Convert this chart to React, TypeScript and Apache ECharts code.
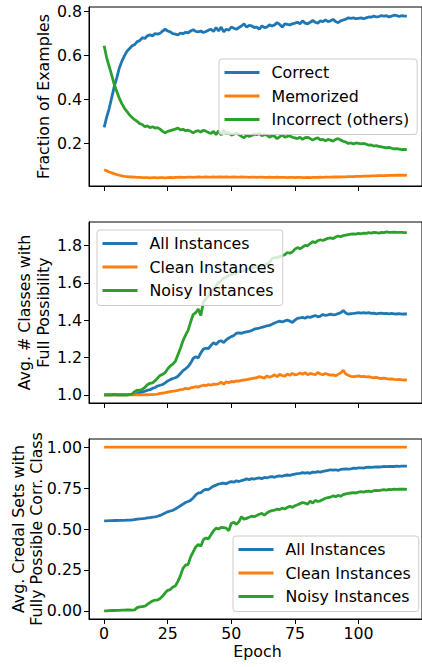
import React, { useEffect, useRef } from "react";
import * as echarts from "echarts";

const epochs = [
  0, 1, 2, 3, 4, 5, 6, 7, 8, 9, 10, 11, 12, 13, 14, 15, 16, 17, 18, 19,
  20, 21, 22, 23, 24, 25, 26, 27, 28, 29, 30, 31, 32, 33, 34, 35, 36, 37, 38, 39,
  40, 41, 42, 43, 44, 45, 46, 47, 48, 49, 50, 51, 52, 53, 54, 55, 56, 57, 58, 59,
  60, 61, 62, 63, 64, 65, 66, 67, 68, 69, 70, 71, 72, 73, 74, 75, 76, 77, 78, 79,
  80, 81, 82, 83, 84, 85, 86, 87, 88, 89, 90, 91, 92, 93, 94, 95, 96, 97, 98, 99,
  100, 101, 102, 103, 104, 105, 106, 107, 108, 109, 110, 111, 112, 113, 114, 115, 116, 117, 118, 119,
];

// Panel 1: Fraction of Examples
const p1Correct = [
  0.273, 0.32, 0.36, 0.41, 0.46, 0.5, 0.545, 0.575, 0.6, 0.62,
  0.632, 0.645, 0.65, 0.664, 0.668, 0.682, 0.678, 0.69, 0.695, 0.69,
  0.7, 0.698, 0.702, 0.712, 0.72, 0.712, 0.708, 0.7, 0.698, 0.694,
  0.702, 0.7, 0.706, 0.704, 0.712, 0.718, 0.71, 0.708, 0.712, 0.705,
  0.71, 0.716, 0.72, 0.71, 0.728, 0.712, 0.73, 0.708, 0.72, 0.716,
  0.73, 0.725, 0.72, 0.728, 0.735, 0.745, 0.73, 0.738, 0.735, 0.728,
  0.73, 0.72, 0.735, 0.728, 0.73, 0.74, 0.735, 0.74, 0.75, 0.742,
  0.73, 0.745, 0.742, 0.74, 0.745, 0.748, 0.752, 0.745, 0.758, 0.748,
  0.745, 0.752, 0.76, 0.752, 0.748, 0.758, 0.755, 0.762, 0.755, 0.758,
  0.765, 0.755, 0.75, 0.758, 0.762, 0.766, 0.772, 0.77, 0.772, 0.768,
  0.77, 0.772, 0.768, 0.772, 0.776, 0.775, 0.78, 0.776, 0.778, 0.782,
  0.78, 0.782, 0.776, 0.78, 0.784, 0.782, 0.778, 0.782, 0.78, 0.78,
];
const p1Memorized = [
  0.08, 0.075, 0.07, 0.066, 0.062, 0.058, 0.055, 0.052, 0.05, 0.049,
  0.048, 0.047, 0.046, 0.045, 0.045, 0.044, 0.044, 0.044, 0.043, 0.044,
  0.044, 0.043, 0.044, 0.044, 0.043, 0.044, 0.045, 0.044, 0.045, 0.045,
  0.046, 0.045, 0.045, 0.046, 0.046, 0.045, 0.046, 0.047, 0.046, 0.046,
  0.047, 0.046, 0.046, 0.047, 0.046, 0.047, 0.047, 0.046, 0.047, 0.046,
  0.046, 0.047, 0.046, 0.046, 0.047, 0.046, 0.046, 0.045, 0.046, 0.046,
  0.045, 0.046, 0.046, 0.045, 0.045, 0.046, 0.045, 0.045, 0.046, 0.045,
  0.045, 0.045, 0.044, 0.045, 0.045, 0.044, 0.045, 0.045, 0.044, 0.044,
  0.045, 0.044, 0.045, 0.045, 0.045, 0.046, 0.045, 0.046, 0.046, 0.046,
  0.047, 0.047, 0.047, 0.048, 0.048, 0.048, 0.049, 0.049, 0.049, 0.05,
  0.05, 0.05, 0.051, 0.051, 0.051, 0.052, 0.052, 0.052, 0.053, 0.053,
  0.053, 0.053, 0.054, 0.054, 0.054, 0.055, 0.055, 0.055, 0.055, 0.056,
];
const p1Incorrect = [
  0.645, 0.59, 0.55, 0.51, 0.468, 0.435, 0.405, 0.38, 0.36, 0.345,
  0.33, 0.318, 0.308, 0.3, 0.29, 0.286, 0.276, 0.28, 0.272, 0.276,
  0.27, 0.272, 0.265, 0.255, 0.248, 0.255, 0.258, 0.262, 0.265, 0.27,
  0.262, 0.264, 0.258, 0.26, 0.255, 0.248, 0.255, 0.258, 0.252, 0.26,
  0.256, 0.25, 0.245, 0.255, 0.24, 0.258, 0.238, 0.26, 0.245, 0.25,
  0.238, 0.242, 0.248, 0.24, 0.232, 0.225, 0.238, 0.232, 0.236, 0.242,
  0.24, 0.245, 0.235, 0.24, 0.238, 0.228, 0.235, 0.232, 0.222, 0.23,
  0.24, 0.228, 0.232, 0.234, 0.228, 0.225, 0.222, 0.228, 0.218, 0.226,
  0.228, 0.222, 0.215, 0.222, 0.225, 0.216, 0.218, 0.212, 0.218, 0.215,
  0.21, 0.218, 0.222, 0.215, 0.21, 0.206, 0.2, 0.202, 0.198, 0.202,
  0.2, 0.198, 0.2, 0.196, 0.192, 0.193, 0.188, 0.19, 0.186, 0.184,
  0.182, 0.18, 0.182, 0.178, 0.175, 0.176, 0.174, 0.172, 0.173, 0.172,
];

// Panel 2: Avg. # Classes with Full Possibility
const p2All = [
  1.0, 1.0, 1.001, 1.0, 1.0, 1.002, 1.0, 1.001, 1.0, 1.0,
  1.002, 1.003, 1.005, 1.008, 1.012, 1.015, 1.02, 1.025, 1.028, 1.035,
  1.04, 1.048, 1.052, 1.056, 1.065, 1.075, 1.082, 1.088, 1.092, 1.1,
  1.115, 1.13, 1.14, 1.152, 1.17, 1.195, 1.205, 1.198, 1.225, 1.245,
  1.25, 1.248, 1.265, 1.28, 1.27, 1.285, 1.29, 1.28, 1.295, 1.305,
  1.312, 1.318, 1.33, 1.332, 1.33, 1.335, 1.338, 1.34, 1.345, 1.352,
  1.355, 1.358, 1.362, 1.365, 1.37, 1.372, 1.378, 1.385, 1.39, 1.395,
  1.39, 1.396, 1.4, 1.395, 1.388, 1.4, 1.41, 1.412, 1.415, 1.41,
  1.418, 1.415, 1.42, 1.425, 1.418, 1.422, 1.43, 1.425, 1.428, 1.432,
  1.428, 1.43, 1.435, 1.44, 1.452, 1.438, 1.432, 1.435, 1.436, 1.438,
  1.44, 1.438, 1.44, 1.438, 1.44, 1.436, 1.438, 1.434, 1.436, 1.438,
  1.435, 1.436, 1.434, 1.436, 1.434, 1.433, 1.435, 1.432, 1.434, 1.433,
];
const p2Clean = [
  1.0, 1.0, 1.0, 1.0, 1.0, 1.0, 1.0, 1.0, 1.0, 1.0,
  1.0, 1.0, 1.0, 1.0, 1.0, 1.0, 1.001, 1.001, 1.002, 1.002,
  1.003, 1.005, 1.008, 1.01, 1.012, 1.015, 1.018, 1.02, 1.022, 1.025,
  1.028, 1.03, 1.035, 1.032, 1.038, 1.04, 1.045, 1.042, 1.048, 1.052,
  1.05, 1.055, 1.052, 1.058, 1.056, 1.06, 1.068, 1.058, 1.07, 1.066,
  1.072, 1.07, 1.075, 1.074, 1.078, 1.08, 1.082, 1.085, 1.088, 1.09,
  1.092, 1.098, 1.094, 1.09, 1.102, 1.095, 1.1, 1.108, 1.098, 1.11,
  1.104, 1.1, 1.112, 1.105, 1.115, 1.108, 1.11, 1.118, 1.11, 1.12,
  1.108, 1.115, 1.112, 1.108, 1.12, 1.112, 1.108, 1.115, 1.11, 1.106,
  1.108, 1.102, 1.11, 1.118, 1.132, 1.112, 1.105, 1.1, 1.098, 1.1,
  1.102, 1.098, 1.1, 1.097, 1.098, 1.094, 1.092, 1.094, 1.09, 1.088,
  1.09, 1.087, 1.085, 1.086, 1.083, 1.082, 1.083, 1.081, 1.08, 1.08,
];
const p2Noisy = [
  1.0, 1.0, 1.002, 1.0, 1.003, 1.001, 1.0, 1.002, 1.0, 1.001,
  1.003, 1.005, 1.018, 1.026, 1.025, 1.03, 1.04, 1.055, 1.062, 1.065,
  1.075, 1.09, 1.105, 1.11, 1.12, 1.14, 1.155, 1.165, 1.18, 1.215,
  1.25, 1.29, 1.32, 1.345, 1.39, 1.43, 1.44, 1.46, 1.425, 1.495,
  1.515, 1.53, 1.55, 1.565, 1.585, 1.6, 1.612, 1.625, 1.63, 1.64,
  1.645, 1.65, 1.652, 1.66, 1.662, 1.665, 1.672, 1.675, 1.678, 1.682,
  1.685, 1.69, 1.692, 1.695, 1.7, 1.71, 1.73, 1.735, 1.735, 1.74,
  1.745, 1.75, 1.762, 1.758, 1.765, 1.78, 1.788, 1.782, 1.79, 1.8,
  1.798, 1.81, 1.82, 1.815, 1.825, 1.83, 1.826, 1.832, 1.838, 1.84,
  1.836, 1.845, 1.85, 1.846, 1.852, 1.855, 1.858, 1.86, 1.862, 1.86,
  1.864, 1.862, 1.866, 1.864, 1.868, 1.866, 1.87, 1.868, 1.866, 1.87,
  1.868, 1.872, 1.87, 1.869, 1.871, 1.87, 1.869, 1.87, 1.868, 1.868,
];

// Panel 3: Avg. Credal Sets with Fully Possible Corr. Class
const p3All = [
  0.55, 0.55, 0.551, 0.551, 0.552, 0.552, 0.553, 0.553, 0.553, 0.554,
  0.554, 0.555, 0.558, 0.56, 0.562, 0.563, 0.565, 0.568, 0.57, 0.572,
  0.574, 0.578, 0.583, 0.59, 0.598, 0.605, 0.61, 0.614, 0.622, 0.632,
  0.642, 0.652, 0.662, 0.668, 0.675, 0.69, 0.708, 0.72, 0.722, 0.735,
  0.742, 0.74, 0.752, 0.762, 0.768, 0.775, 0.778, 0.78, 0.776, 0.785,
  0.79, 0.786, 0.795, 0.79, 0.796, 0.8, 0.806, 0.802, 0.808, 0.805,
  0.81, 0.812, 0.808, 0.815, 0.812, 0.818, 0.82, 0.816, 0.822, 0.825,
  0.822, 0.828, 0.83, 0.828, 0.832, 0.835, 0.838, 0.84, 0.845, 0.842,
  0.845, 0.84, 0.848, 0.846, 0.85, 0.848, 0.852, 0.855, 0.858, 0.862,
  0.86, 0.862, 0.858, 0.864, 0.866, 0.868, 0.866, 0.868, 0.872, 0.87,
  0.873, 0.874, 0.872, 0.876, 0.878, 0.876, 0.878, 0.88, 0.879, 0.88,
  0.882, 0.881, 0.882, 0.883, 0.882, 0.884, 0.883, 0.884, 0.884, 0.884,
];
const p3Clean = [
  1, 1, 1, 1, 1, 1, 1, 1, 1, 1, 1, 1, 1, 1, 1, 1, 1, 1, 1, 1,
  1, 1, 1, 1, 1, 1, 1, 1, 1, 1, 1, 1, 1, 1, 1, 1, 1, 1, 1, 1,
  1, 1, 1, 1, 1, 1, 1, 1, 1, 1, 1, 1, 1, 1, 1, 1, 1, 1, 1, 1,
  1, 1, 1, 1, 1, 1, 1, 1, 1, 1, 1, 1, 1, 1, 1, 1, 1, 1, 1, 1,
  1, 1, 1, 1, 1, 1, 1, 1, 1, 1, 1, 1, 1, 1, 1, 1, 1, 1, 1, 1,
  1, 1, 1, 1, 1, 1, 1, 1, 1, 1, 1, 1, 1, 1, 1, 1, 1, 1, 1, 1,
];
const p3Noisy = [
  0.0, 0.0, 0.001, 0.002, 0.002, 0.003, 0.003, 0.004, 0.004, 0.006,
  0.005, 0.004, 0.006, 0.02, 0.024, 0.026, 0.028, 0.04, 0.05, 0.06,
  0.065, 0.066, 0.075, 0.09, 0.11, 0.125, 0.13, 0.145, 0.152, 0.18,
  0.215, 0.26, 0.28, 0.282, 0.33, 0.36, 0.39, 0.405, 0.395, 0.435,
  0.445, 0.44, 0.465, 0.49, 0.505, 0.5, 0.51, 0.508, 0.505, 0.49,
  0.535, 0.54, 0.528, 0.545, 0.575, 0.56, 0.565, 0.572, 0.578, 0.575,
  0.582, 0.59, 0.595, 0.585, 0.598, 0.608, 0.612, 0.615, 0.622, 0.618,
  0.628, 0.622, 0.632, 0.638, 0.632, 0.642, 0.648, 0.655, 0.662, 0.658,
  0.652, 0.67, 0.658, 0.675, 0.668, 0.672, 0.68, 0.688, 0.692, 0.695,
  0.702, 0.698, 0.705, 0.7, 0.71, 0.715, 0.718, 0.72, 0.722, 0.72,
  0.725, 0.728, 0.725, 0.73, 0.732, 0.728, 0.734, 0.736, 0.735, 0.738,
  0.74, 0.738, 0.742, 0.74, 0.743, 0.742, 0.744, 0.743, 0.744, 0.742,
];

const xTicks = [0, 25, 50, 75, 100];
const p1Ticks = [0.2, 0.4, 0.6, 0.8];
const p2Ticks = [1.0, 1.2, 1.4, 1.6, 1.8];
const p3Ticks = [0, 0.25, 0.5, 0.75, 1.0];

const p1Names = ["Correct", "Memorized", "Incorrect (others)"];
const p23Names = ["All Instances", "Clean Instances", "Noisy Instances"];
const colors = ["#1f77b4", "#ff7f0e", "#2ca02c"];

const FONT = "DejaVu Sans";
const FS = 15.8;

export default function App() {
  const ref = useRef<HTMLDivElement>(null);
  useEffect(() => {
    document.body.style.margin = "0";
    if (!ref.current) return;
    const chart = echarts.init(ref.current, undefined, { renderer: "svg" });

    const grids = [
      { left: 89, top: 7, width: 337, height: 179 },
      { left: 89, top: 222, width: 337, height: 181 },
      { left: 89, top: 439, width: 337, height: 180 },
    ].map((g) => ({ ...g, show: true, borderColor: "#000", borderWidth: 1, backgroundColor: "transparent" }));

    const xAxes = [0, 1, 2].map((i) => ({
      type: "value",
      gridIndex: i,
      min: -5.95,
      max: 124.95,
      splitLine: { show: false },
      axisLine: { show: true, onZero: false, lineStyle: { color: "#000", width: 1 } },
      axisTick: { show: true, length: 5, lineStyle: { color: "#000", width: 1 }, customValues: xTicks },
      axisLabel: {
        show: i === 2,
        customValues: xTicks,
        margin: 6,
        fontSize: FS,
        fontFamily: FONT,
        color: "#000",
      },
    }));

    const yDefs = [
      { min: 0.006, max: 0.8214, ticks: p1Ticks, dec: 1 },
      { min: 0.957, max: 1.925, ticks: p2Ticks, dec: 1 },
      { min: -0.05, max: 1.05, ticks: p3Ticks, dec: 2 },
    ];
    const yAxes = yDefs.map((d, i) => ({
      type: "value",
      gridIndex: i,
      min: d.min,
      max: d.max,
      splitLine: { show: false },
      axisLine: { show: true, onZero: false, lineStyle: { color: "#000", width: 1 } },
      axisTick: { show: true, length: 5, lineStyle: { color: "#000", width: 1 }, customValues: d.ticks },
      axisLabel: {
        customValues: d.ticks,
        margin: 7,
        fontSize: FS,
        fontFamily: FONT,
        color: "#000",
        formatter: (v: number) => v.toFixed(d.dec),
      },
    }));

    const mk = (name: string, arr: number[], idx: number, color: string) => ({
      type: "line",
      name,
      xAxisIndex: idx,
      yAxisIndex: idx,
      data: epochs.map((e, i) => [e, arr[i]]),
      showSymbol: false,
      symbol: "none",
      color,
      lineStyle: { width: 2.8, color },
      clip: true,
    });

    const series = [
      mk(p1Names[0], p1Correct, 0, colors[0]),
      mk(p1Names[1], p1Memorized, 0, colors[1]),
      mk(p1Names[2], p1Incorrect, 0, colors[2]),
      mk(p23Names[0], p2All, 1, colors[0]),
      mk(p23Names[1], p2Clean, 1, colors[1]),
      mk(p23Names[2], p2Noisy, 1, colors[2]),
      mk(p23Names[0], p3All, 2, colors[0]),
      mk(p23Names[1], p3Clean, 2, colors[1]),
      mk(p23Names[2], p3Noisy, 2, colors[2]),
    ];

    const legendBase = {
      orient: "vertical",
      icon: "rect",
      itemWidth: 35,
      itemHeight: 3,
      itemGap: 5.5,
      padding: [4.5, 8, 6, 5.5],
      backgroundColor: "rgba(255,255,255,0.8)",
      borderColor: "#cccccc",
      borderWidth: 1,
      borderRadius: 3,
      selectedMode: false,
      textStyle: { fontSize: FS, fontFamily: FONT, color: "#000", lineHeight: 18, padding: [0, 0, 0, 7] },
    };

    const legends = [
      { ...legendBase, left: 219, top: 59, data: p1Names },
      { ...legendBase, left: 97, top: 230, data: p23Names },
      { ...legendBase, left: 233, top: 536, data: p23Names },
    ];

    const txt = (text: string, x: number, y: number, rot: number) => ({
      type: "text",
      x,
      y,
      rotation: rot,
      style: {
        text,
        fontSize: FS,
        fontFamily: FONT,
        fill: "#000",
        textAlign: "center",
        textVerticalAlign: "middle",
        lineHeight: 18.8,
      },
    });

    const option = {
      animation: false,
      grid: grids,
      xAxis: xAxes,
      yAxis: yAxes,
      legend: legends,
      series,
      graphic: [
        txt("Fraction of Examples", 43.3, 96.5, Math.PI / 2),
        txt("Avg. # Classes with\nFull Possibility", 34, 312.5, Math.PI / 2),
        txt("Avg. Credal Sets with\nFully Possible Corr. Class", 27.5, 529, Math.PI / 2),
        txt("Epoch", 257.5, 651.7, 0),
      ],
    };
    chart.setOption(option as any);
    return () => chart.dispose();
  }, []);
  return <div ref={ref} style={{ width: 422, height: 667 }} />;
}
